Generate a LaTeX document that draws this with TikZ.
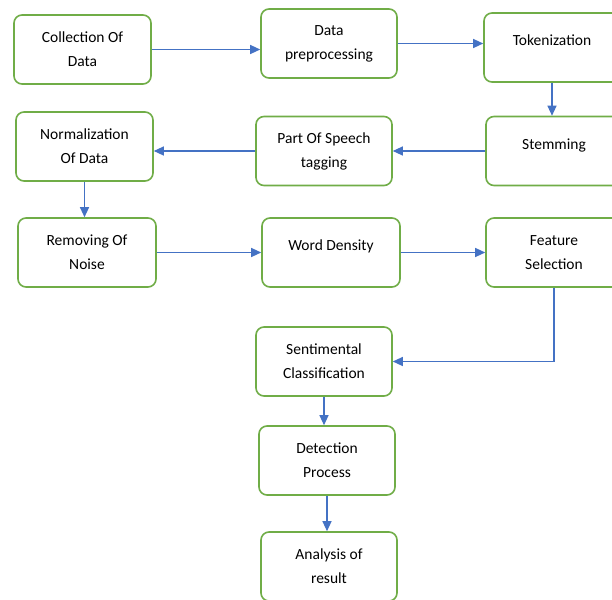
\documentclass[tikz,border=0pt]{standalone}
\usepackage{fontspec}
\setmainfont{Carlito}
\usetikzlibrary{positioning,arrows.meta}

\definecolor{boxgreen}{HTML}{70AD47}
\definecolor{arrowblue}{HTML}{4472C4}

\begin{document}
\begin{tikzpicture}[
    x=1pt, y=-1pt,
    box/.style={draw=boxgreen, line width=1.6pt, rounded corners=8pt, minimum width=137pt, minimum height=69pt, align=center, font=\fontsize{15.5}{24}\selectfont},
    raised/.style={text depth=14pt},
    arrow/.style={-{Triangle[length=10pt,width=9pt]}, draw=arrowblue, line width=1.2pt}]
\clip (0,0) rectangle (612,599);
\useasboundingbox (0,0) rectangle (612,599);
\fill[white] (0,0) rectangle (612,599);
\node[box] (collect) at (82.5,49.5) {Collection Of\\Data};
\node[box, minimum width=136pt] (prep) at (329,43.5) {Data\\preprocessing};
\node[box, raised, minimum width=136pt] (token) at (552,47.5) {Tokenization};
\node[box, raised, minimum width=136pt] (stem) at (554,151) {Stemming};
\node[box, minimum width=136pt] (pos) at (324,151) {Part Of Speech\\tagging};
\node[box] (norm) at (84.5,146.5) {Normalization\\Of Data};
\node[box, minimum width=138pt] (noise) at (87,252.5) {Removing Of\\Noise};
\node[box, raised, minimum width=138pt] (density) at (331,252.5) {Word Density};
\node[box, minimum width=136pt] (feature) at (554,252.5) {Feature\\Selection};
\node[box, minimum width=136pt] (senti) at (324,361.5) {Sentimental\\Classification};
\node[box, minimum width=136pt] (detect) at (327,460.5) {Detection\\Process};
\node[box, minimum width=136pt] (result) at (329,566.5) {Analysis of\\result};
\draw[arrow] (collect.east) -- (prep.west |- collect.east);
\draw[arrow] (prep.east) -- (token.west |- prep.east);
\draw[arrow] (token.south) -- (token.south |- stem.north);
\draw[arrow] (stem.west) -- (pos.east |- stem.west);
\draw[arrow] (pos.west) -- (norm.east |- pos.west);
\draw[arrow] (norm.south) -- (norm.south |- noise.north);
\draw[arrow] (noise.east) -- (density.west |- noise.east);
\draw[arrow] (density.east) -- (feature.west);
\draw[arrow] (feature.south) |- (senti.east);
\draw[arrow] (senti.south) -- (senti.south |- detect.north);
\draw[arrow] (detect.south) -- (detect.south |- result.north);
\end{tikzpicture}
\end{document}
